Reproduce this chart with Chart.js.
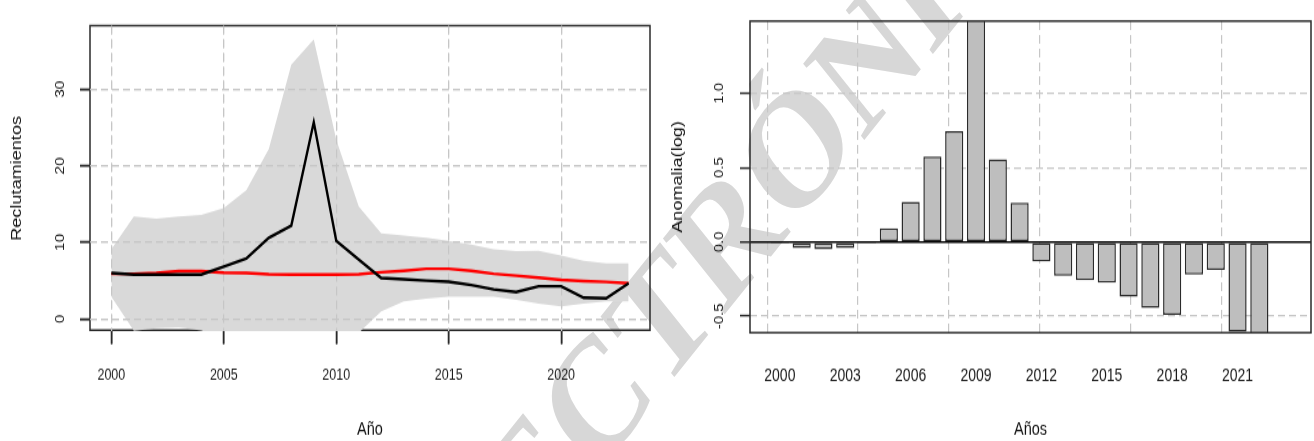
<!DOCTYPE html>
<html lang="es">
<head>
<meta charset="utf-8">
<title>Reclutamientos y anomalía</title>
<script src="https://cdn.jsdelivr.net/npm/chart.js@4.4.1/dist/chart.umd.min.js"></script>
<style>
  html, body { margin: 0; padding: 0; background: #fff; width: 1314px; height: 441px; overflow: hidden; }
  /* both panels are drawn on a 353px-high stage and stretched to 441px */
  #stage { position: absolute; left: 0; top: 0; width: 1314px; height: 353px;
           transform: scaleY(1.2493); transform-origin: 0 0; }
  #wm {
    position: absolute; left: 725px; top: 189px;
    transform: translate(-50%, -50%) rotate(-45deg);
    font: bold 132px "Liberation Serif", "Times New Roman", serif;
    line-height: 1; color: #d7d7d7; white-space: nowrap; z-index: 0;
  }
  .panel { position: absolute; top: 0; width: 657px; height: 353px; z-index: 1; }
  #pL { left: 0; }
  #pR { left: 657px; }
</style>
</head>
<body>
<div id="stage">
  <div id="wm">ELECTRÓNICO</div>
  <div class="panel" id="pL"><canvas id="recruits"></canvas></div>
  <div class="panel" id="pR"><canvas id="anomaly"></canvas></div>
</div>
<script>
// ---- recruitment series (left panel) ----
const years       = [2000,2001,2002,2003,2004,2005,2006,2007,2008,2009,2010,2011,2012,2013,2014,2015,2016,2017,2018,2019,2020,2021,2022,2023];
const recruitEst  = [6.0,5.8,5.8,5.8,5.8,6.85,7.9,10.6,12.2,25.7,10.2,7.75,5.35,5.2,5.0,4.86,4.43,3.86,3.52,4.27,4.27,2.78,2.69,4.65];
const recruitMod  = [5.9,5.9,6.0,6.25,6.25,6.05,6.0,5.85,5.8,5.8,5.8,5.85,6.1,6.3,6.55,6.55,6.3,5.9,5.65,5.4,5.1,4.95,4.85,4.65];
const bandUpper   = [9.1,13.4,13.1,13.4,13.6,14.5,16.8,22.2,33.2,36.5,23.4,14.7,11.2,10.9,10.6,10.2,9.7,9.1,8.85,8.9,8.3,7.6,7.26,7.26];
const bandLower   = [2.9,-1.55,-1.2,-1.1,-1.5,-2.5,-3.0,-3.5,-4.0,-4.0,-3.0,-1.8,1.0,2.3,2.65,2.9,2.9,2.9,2.5,2.0,1.65,2.0,2.3,2.3];
const leftXTicks  = [2000,2005,2010,2015,2020];
const leftYTicks  = [0,10,20,30];

// ---- log anomaly per year (right panel) ----
const anomalyYears = [2000,2001,2002,2003,2004,2005,2006,2007,2008,2009,2010,2011,2012,2013,2014,2015,2016,2017,2018,2019,2020,2021,2022,2023];
const anomaly      = [-0.011,-0.04,-0.05,-0.04,-0.011,0.092,0.27,0.574,0.745,1.6,0.556,0.264,-0.132,-0.229,-0.257,-0.275,-0.369,-0.444,-0.49,-0.22,-0.189,-0.605,-0.66,null];
const barLabelYears = [2000,2003,2006,2009,2012,2015,2018,2021];
const barGridUnits  = [0,5,10,15,20,25];   // grid positions in barplot units
const rightYTicks   = [-0.5,0,0.5,1];

const FONT = '"Liberation Sans", Arial, Helvetica, sans-serif';
const GRID = '#c6c6c6';
const INK  = '#2a2a2a';

// barplot unit -> year position (bars are 1 wide with 0.2 spacing, first centre at 0.7)
const unitToYear = u => anomalyYears[0] + (u - 0.7) / 1.2;

function framePlugin(hook, insetBottom) {
  return {
    id: 'frame_' + hook,
    [hook](chart) {
      const { ctx, chartArea: a } = chart;
      ctx.save();
      ctx.strokeStyle = INK;
      ctx.lineWidth = 1.5;
      ctx.strokeRect(a.left, a.top, a.right - a.left, a.bottom - a.top - insetBottom);
      ctx.restore();
    }
  };
}

// grid lines sit above the confidence band but below the series lines
const gridOverBand = {
  id: 'gridOverBand',
  afterDatasetDraw(chart, args) {
    if (chart.data.datasets[args.index].fill === '+1') {
      chart.scales.x.drawGrid(chart.chartArea);
      chart.scales.y.drawGrid(chart.chartArea);
    }
  }
};

const pts = arr => years.map((x, i) => ({ x, y: arr[i] }));

new Chart(document.getElementById('recruits'), {
  type: 'line',
  data: {
    datasets: [
      { label: 'Estimado', data: pts(recruitEst), borderColor: '#000', borderWidth: 2.4,
        pointRadius: 0, tension: 0, fill: false, order: 1 },
      { label: 'Modelo', data: pts(recruitMod), borderColor: '#ff0000', borderWidth: 2.4,
        pointRadius: 0, tension: 0, fill: false, order: 2 },
      { label: 'IC superior', data: pts(bandUpper), borderWidth: 0, borderColor: 'rgba(0,0,0,0)',
        backgroundColor: '#d9d9d9', pointRadius: 0, tension: 0, fill: '+1', order: 3 },
      { label: 'IC inferior', data: pts(bandLower), borderWidth: 0, borderColor: 'rgba(0,0,0,0)',
        pointRadius: 0, tension: 0, fill: false, order: 4 }
    ]
  },
  options: {
    responsive: true, maintainAspectRatio: false, animation: false, events: [],
    layout: { padding: { left: 0, right: 7, top: 8.8, bottom: 0 } },
    plugins: { legend: { display: false }, tooltip: { enabled: false } },
    scales: {
      x: {
        type: 'linear', min: 1999.05, max: 2023.95,
        afterBuildTicks: s => { s.ticks = leftXTicks.map(v => ({ value: v })); },
        afterFit: s => { s.height = 88; },
        ticks: { callback: v => String(v), autoSkip: false, maxRotation: 0, minRotation: 0,
                 padding: 17.3, color: '#1a1a1a', font: { family: FONT, size: 12.5 } },
        grid: { color: GRID, lineWidth: 1.2, tickColor: INK, tickWidth: 1.5, tickLength: 10.4, tickBorderDash: [] },
        border: { display: false, dash: [7, 4] },
        title: { display: true, text: 'Año', color: '#111', font: { family: FONT, size: 14.5 },
                 padding: { top: 0, bottom: 0.7 } }
      },
      y: {
        type: 'linear', min: -1.58, max: 38.3,
        afterBuildTicks: s => { s.ticks = leftYTicks.map(v => ({ value: v })); },
        afterFit: s => { s.width = 90; },
        ticks: { callback: v => String(v), minRotation: 90, maxRotation: 90, crossAlign: 'center',
                 padding: 13, color: '#1a1a1a', font: { family: FONT, size: 12.5 } },
        grid: { color: GRID, lineWidth: 1.2, tickColor: INK, tickWidth: 1.5, tickLength: 10, tickBorderDash: [] },
        border: { display: false, dash: [7, 4] },
        title: { display: true, text: 'Reclutamientos', color: '#111', font: { family: FONT, size: 14.5 },
                 padding: { top: 8, bottom: 0 } }
      }
    }
  },
  plugins: [framePlugin('beforeDatasetsDraw', 0.75), gridOverBand]
});

const xMinBar = unitToYear(-0.944);
const xMaxBar = unitToYear(29.944);

new Chart(document.getElementById('anomaly'), {
  type: 'bar',
  data: {
    datasets: [{
      label: 'Anomalía',
      data: anomalyYears.map((x, i) => ({ x, y: anomaly[i] })),
      backgroundColor: '#bebebe', borderColor: '#2b2b2b', borderWidth: 1.5, borderSkipped: false,
      categoryPercentage: 1, barPercentage: 1 / 1.2
    }]
  },
  options: {
    responsive: true, maintainAspectRatio: false, animation: false, events: [],
    layout: { padding: { left: 0, right: 3, top: 11.8, bottom: 0 } },
    plugins: { legend: { display: false }, tooltip: { enabled: false } },
    scales: {
      // year labels under the bars
      x: {
        type: 'linear', offset: false, min: xMinBar, max: xMaxBar,
        afterBuildTicks: s => { s.ticks = barLabelYears.map(v => ({ value: v })); },
        afterFit: s => { s.height = 86.7; },
        ticks: { callback: v => String(v), autoSkip: false, maxRotation: 0, minRotation: 0,
                 padding: 26.8, color: '#1a1a1a', font: { family: FONT, size: 14 } },
        grid: { display: false, drawTicks: false, offset: false },
        border: { display: false },
        title: { display: true, text: 'Años', color: '#111', font: { family: FONT, size: 14.5 },
                 padding: { top: 0, bottom: 0 } }
      },
      // vertical reference grid of the bar plot
      xg: {
        type: 'linear', position: 'bottom', offset: false, min: xMinBar, max: xMaxBar,
        afterBuildTicks: s => { s.ticks = barGridUnits.map(u => ({ value: unitToYear(u) })); },
        afterFit: s => { s.height = 0; },
        ticks: { display: false },
        grid: { offset: false, drawTicks: false, color: GRID, lineWidth: 1.2 },
        border: { display: false, dash: [7, 4] }
      },
      y: {
        type: 'linear', min: -0.611, max: 1.486,
        afterBuildTicks: s => { s.ticks = rightYTicks.map(v => ({ value: v })); },
        afterFit: s => { s.width = 93; },
        ticks: { callback: v => v.toFixed(1), minRotation: 90, maxRotation: 90, crossAlign: 'center',
                 padding: 9.7, color: '#1a1a1a', font: { family: FONT, size: 12 } },
        grid: {
          color: c => (c.tick && c.tick.value === 0 ? '#000' : GRID),
          lineWidth: c => (c.tick && c.tick.value === 0 ? 1.5 : 1.2),
          tickColor: INK, tickWidth: 1.5, tickLength: 10, tickBorderDash: []
        },
        border: { display: false, dash: c => (c.tick && c.tick.value === 0 ? [] : [7, 4]) },
        title: { display: true, text: 'Anomalia(log)', color: '#111', font: { family: FONT, size: 14.5 },
                 padding: { top: 11.8, bottom: 0 } }
      }
    }
  },
  plugins: [framePlugin('afterDatasetsDraw', 0)]
});
</script>
</body>
</html>
